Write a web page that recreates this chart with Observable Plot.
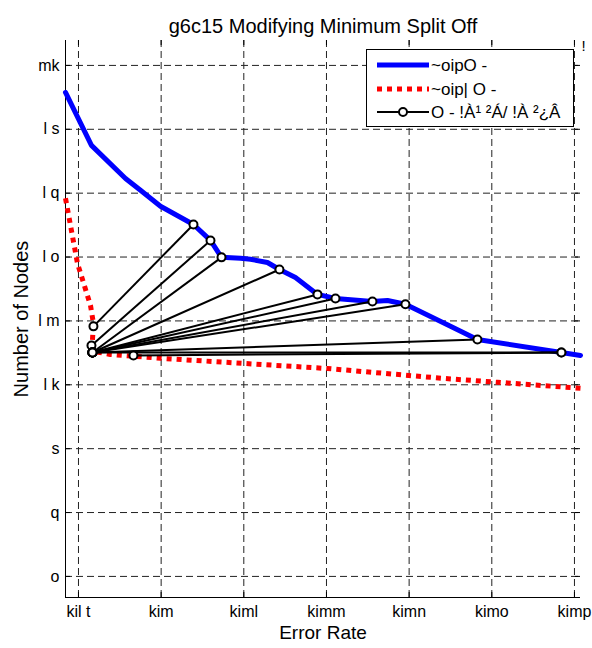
<!DOCTYPE html>
<html>
<head>
<meta charset="utf-8">
<script src="https://cdn.jsdelivr.net/npm/d3@7"></script>
<script src="https://cdn.jsdelivr.net/npm/@observablehq/plot@0.6"></script>
<style>
  html, body { margin: 0; padding: 0; background: #fff; }
  #wrap { position: relative; width: 592px; height: 648px; font-family: "Liberation Sans", Arial, sans-serif; }
  #legend { position: absolute; left: 366px; top: 49px; width: 206px; height: 76px; border: 1px solid #000; background: #fff; }
  #legend svg { position: absolute; left: 0; top: 0; }
</style>
</head>
<body>
<div id="wrap"></div>
<script>
// ---- data ----
const titleText = "g6c15 Modifying Minimum Split Off";
const xLabelText = "Error Rate";
const yLabelText = "Number of Nodes";

const xTicks = [0.19, 0.20, 0.21, 0.22, 0.23, 0.24, 0.25];
const xTickLabels = ["kil t", "kim", "kiml", "kimm", "kimn", "kimo", "kimp"];
const yTicks = [4, 6, 8, 10, 12, 14, 16, 18, 20];
const yTickLabels = ["o", "q", "s", "l k", "l m", "l o", "l q", "l s", "mk"];
const xDomain = [0.18843, 0.25073];
const yDomain = [3.34, 20.78];

// blue thick line
const blueX = [0.18843, 0.19157, 0.19569, 0.19750, 0.19992, 0.20391, 0.20597, 0.20730, 0.20960, 0.21081, 0.21286, 0.21431, 0.21625, 0.21891, 0.22109, 0.22556, 0.22738, 0.22955, 0.23500, 0.23826, 0.24842, 0.25073];
const blueY = [19.155, 17.495, 16.46, 16.09, 15.59, 15.02, 14.52, 13.99, 13.96, 13.93, 13.83, 13.61, 13.36, 12.83, 12.70, 12.61, 12.64, 12.52, 11.83, 11.42, 11.01, 10.92];

// red dotted line
const redX = [0.18843, 0.18988, 0.19145, 0.19181, 0.19169, 0.19181, 0.19387, 0.19992, 0.20996, 0.22012, 0.23415, 0.24068, 0.25073];
const redY = [15.84, 13.80, 12.49, 11.92, 11.39, 11.05, 10.95, 10.83, 10.67, 10.51, 10.20, 10.08, 9.89];

// black segments with circle markers (left end -> right end)
const pairLeftX  = [0.19181, 0.19157, 0.19169, 0.19169, 0.19169, 0.19169, 0.19169, 0.19169, 0.19169, 0.19169, 0.19665];
const pairLeftY  = [11.83, 11.23, 11.01, 11.01, 11.01, 11.01, 11.01, 11.01, 11.01, 11.01, 10.92];
const pairRightX = [0.20391, 0.20597, 0.20730, 0.21431, 0.21891, 0.22109, 0.22556, 0.22955, 0.23826, 0.24842, 0.24842];
const pairRightY = [15.02, 14.52, 13.99, 13.61, 12.83, 12.70, 12.61, 12.52, 11.42, 11.01, 11.01];

const legendLabels = ["~oipO -", "~oip| O -", "O - !À¹ ²Á/ !À ²¿Â"];
const cornerText = "!";

// ---- build ----
const blue = blueX.map((x, i) => ({x, y: blueY[i]}));
const red = redX.map((x, i) => ({x, y: redY[i]}));
const pairs = pairLeftX.map((x1, i) => ({x1, y1: pairLeftY[i], x2: pairRightX[i], y2: pairRightY[i]}));
const ends = pairs.flatMap(p => [{x: p.x1, y: p.y1}, {x: p.x2, y: p.y2}]);

const [x0, x1] = xDomain, [y0, y1] = yDomain;
const dxT = (x1 - x0) * 0.0097, dyT = (y1 - y0) * 0.009;
const gridStyle = {stroke: "#222", strokeOpacity: 1, strokeWidth: 1, strokeDasharray: "7,4"};
const font = "'Liberation Sans', Arial, sans-serif";

const chart = Plot.plot({
  width: 592,
  height: 648,
  marginLeft: 65,
  marginRight: 12,
  marginTop: 40,
  marginBottom: 51,
  x: {domain: xDomain},
  y: {domain: yDomain},
  style: {fontFamily: font, fontSize: "16px", background: "#fff", color: "#000"},
  marks: [
    Plot.gridX(xTicks, gridStyle),
    Plot.gridY(yTicks, gridStyle),
    Plot.ruleX(xTicks, {y1: y0, y2: y0 + dyT, stroke: "#000"}),
    Plot.ruleX(xTicks, {y1: y1 - dyT, y2: y1, stroke: "#000"}),
    Plot.ruleY(yTicks, {x1: x0, x2: x0 + dxT, stroke: "#000"}),
    Plot.ruleY(yTicks, {x1: x1 - dxT, x2: x1, stroke: "#000"}),
    Plot.ruleX([x0], {y1: y0, y2: y1, stroke: "#000"}),
    Plot.ruleY([y0], {x1: x0, x2: x1, stroke: "#000"}),
    Plot.axisX(xTicks, {tickSize: 0, tickPadding: 8, tickFormat: d => xTickLabels[xTicks.indexOf(d)], label: null, fontSize: 16}),
    Plot.axisY(yTicks, {tickSize: 0, tickPadding: 6, tickFormat: d => yTickLabels[yTicks.indexOf(d)], label: null, fontSize: 16}),
    Plot.line(red, {x: "x", y: "y", stroke: "#ff0000", strokeWidth: 5, strokeDasharray: "5,5", strokeLinecap: "butt", strokeLinejoin: "miter"}),
    Plot.line(blue, {x: "x", y: "y", stroke: "#0000ff", strokeWidth: 5, strokeLinejoin: "round"}),
    Plot.link(pairs, {x1: "x1", y1: "y1", x2: "x2", y2: "y2", stroke: "#000", strokeWidth: 2}),
    Plot.dot(ends, {x: "x", y: "y", r: 4, fill: "#fff", stroke: "#000", strokeWidth: 2}),
    Plot.text([titleText], {frameAnchor: "top", textAnchor: "middle", dy: -22, fontSize: 20, fill: "#000"}),
    Plot.text([xLabelText], {frameAnchor: "bottom", textAnchor: "middle", dy: 41, fontSize: 19, fill: "#000"}),
    Plot.text([yLabelText], {frameAnchor: "left", textAnchor: "middle", dx: -44, rotate: -90, fontSize: 20, fill: "#000"}),
    Plot.text([cornerText], {frameAnchor: "top-right", textAnchor: "middle", dx: 3, dy: 0, fontSize: 15, fill: "#000"})
  ]
});
document.getElementById("wrap").appendChild(chart);

// legend overlay
const leg = document.createElement("div");
leg.id = "legend";
const svg = d3.create("svg").attr("width", 206).attr("height", 76);
const rows = [15, 39, 62];
svg.append("line").attr("x1", 10).attr("x2", 62).attr("y1", rows[0]).attr("y2", rows[0]).attr("stroke", "#0000ff").attr("stroke-width", 5);
svg.append("line").attr("x1", 10).attr("x2", 62).attr("y1", rows[1]).attr("y2", rows[1]).attr("stroke", "#ff0000").attr("stroke-width", 5).attr("stroke-dasharray", "5,5");
svg.append("line").attr("x1", 10).attr("x2", 62).attr("y1", rows[2]).attr("y2", rows[2]).attr("stroke", "#000").attr("stroke-width", 2);
svg.append("circle").attr("cx", 36).attr("cy", rows[2]).attr("r", 4).attr("fill", "#fff").attr("stroke", "#000").attr("stroke-width", 2);
legendLabels.forEach((t, i) => {
  svg.append("text").attr("x", 64).attr("y", rows[i]).attr("dy", "0.35em")
    .attr("font-family", font).attr("font-size", 17).attr("fill", "#000").text(t);
});
leg.appendChild(svg.node());
document.getElementById("wrap").appendChild(leg);
</script>
</body>
</html>
